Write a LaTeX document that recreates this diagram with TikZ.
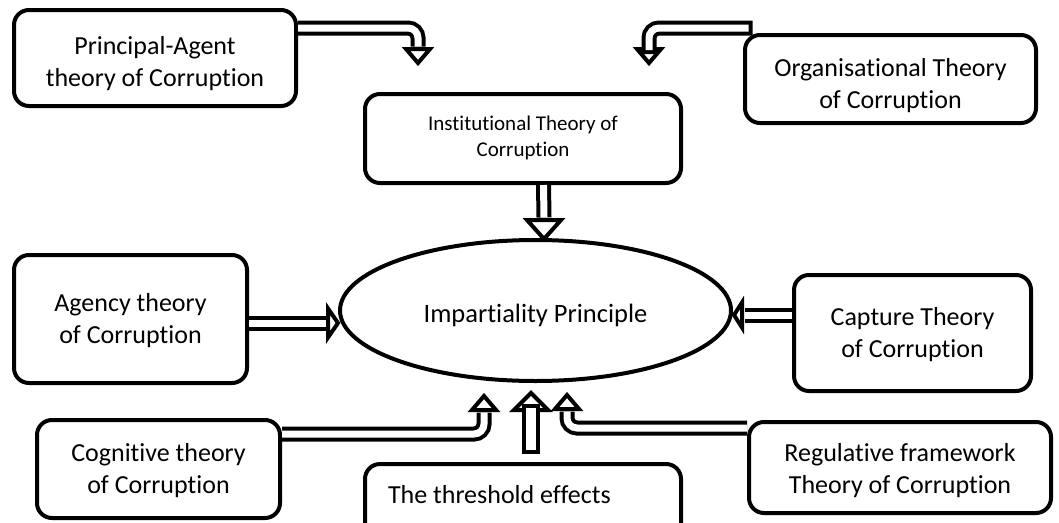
\documentclass[tikz,border=0pt]{standalone}
\usepackage{fontspec}
\setmainfont{Carlito}[Ligatures=NoCommon]
\usetikzlibrary{shapes.geometric,calc}

\begin{document}
\begin{tikzpicture}[x=1pt,y=1pt,
    theory/.style={draw, line width=4pt, rounded corners=15pt, align=center,
      inner sep=0pt, text height=56pt, text depth=7pt,
      font=\fontsize{26}{31.7}\selectfont},
    shaft/.style={draw, line width=4pt, double=white, double distance=7pt,
      rounded corners=10pt},
    head/.style={draw, fill=white, line width=4pt, line join=miter}]
    \useasboundingbox (0,0) rectangle (1059,-522);

    % Central principle
    \node[ellipse, draw, line width=4pt, minimum width=391pt, minimum height=141pt,
      inner sep=0pt, text height=28pt, font=\fontsize{26.5}{32}\selectfont] (imp) at (535.5,-310.5)
      {Impartiality Principle};

    % Theories around it
    \node[theory, minimum width=282pt, minimum height=96pt, text height=63pt] (pa) at (155,-58)
      {Principal-Agent\\theory of Corruption};
    \node[theory, minimum width=316pt, minimum height=89pt, text height=40pt, text depth=5pt,
      font=\fontsize{21}{25.6}\selectfont] (inst) at (523,-138.5)
      {Institutional Theory of\\Corruption};
    \node[theory, minimum width=291pt, minimum height=88pt, text height=65pt] (org) at (890.5,-79)
      {Organisational Theory\\of Corruption};
    \node[theory, minimum width=233pt, minimum height=128pt] (agency) at (130.5,-319)
      {Agency theory\\of Corruption};
    \node[theory, minimum width=237pt, minimum height=116pt] (capture) at (912.5,-333)
      {Capture Theory\\of Corruption};
    \node[theory, minimum width=243pt, minimum height=98pt] (cog) at (158.5,-469)
      {Cognitive theory\\of Corruption};
    \node[theory, minimum width=316pt, minimum height=74pt, text width=270pt,
      align=flush left, text height=18pt, text depth=14pt] (thr) at (523,-501)
      {The threshold effects};
    \node[theory, minimum width=302pt, minimum height=91pt, text height=58pt] (reg) at (900,-467.5)
      {Regulative framework\\Theory of Corruption};

    % Tips of the hollow arrows
    \coordinate (paTip) at (418,-63);
    \coordinate (orgTip) at (649,-63);
    \coordinate (instTip) at ($(imp.north)+(8.5,-1)$);
    \coordinate (agTip) at ($(imp.west)+(0,-12.5)$);
    \coordinate (capTip) at ($(imp.east)+(1,-4.5)$);
    \coordinate (cogTip) at (484,-396);
    \coordinate (thrTip) at ($(imp.south)+(-4.5,-10)$);
    \coordinate (regTip) at (567,-395);

    % Arrow heads
    \draw[head] (paTip) -- ++(-12,14) -- ++(24,0) -- cycle;
    \draw[head] (orgTip) -- ++(-12,14) -- ++(24,0) -- cycle;
    \draw[head] (instTip) -- ++(-17,19) -- ++(34,0) -- cycle;
    \draw[head] (agTip) -- ++(-10,14.5) -- ++(0,-29) -- cycle;
    \draw[head] (capTip) -- ++(8,12.5) -- ++(0,-25) -- cycle;
    \draw[head] (cogTip) -- ++(-12,-14) -- ++(24,0) -- cycle;
    \draw[head] (thrTip) -- ++(-17,-17) -- ++(34,0) -- cycle;
    \draw[head] (regTip) -- ++(-12,-14) -- ++(24,0) -- cycle;

    % Shafts
    \draw[shaft] ($(pa.north east)+(0,-20)$) -| ($(paTip)+(0,16.5)$);
    \draw[shaft, line cap=rect] ($(org.north west)+(2,5)$) -| ($(orgTip)+(0,16.5)$);
    \draw[shaft] ($(inst.south)+(20.5,0)$) -- ($(instTip)+(0,21.5)$);
    \draw[shaft] ($(agency.east)+(0,-4)$) -- ($(agTip)+(-12.5,0)$);
    \draw[shaft] ($(capture.west)+(0,18)$) -- ($(capTip)+(10.5,0)$);
    \draw[shaft] ($(cog.north east)+(0,-16)$) -| ($(cogTip)+(0,-16.5)$);
    \draw[shaft, double distance=10pt, line cap=rect] ($(thr.north)+(8,17.5)$) -- ($(thrTip)+(0,-19.5)$);
    \draw[shaft] ($(reg.north west)+(0,-8)$) -| ($(regTip)+(0,-16.5)$);
  \end{tikzpicture}
\end{document}
